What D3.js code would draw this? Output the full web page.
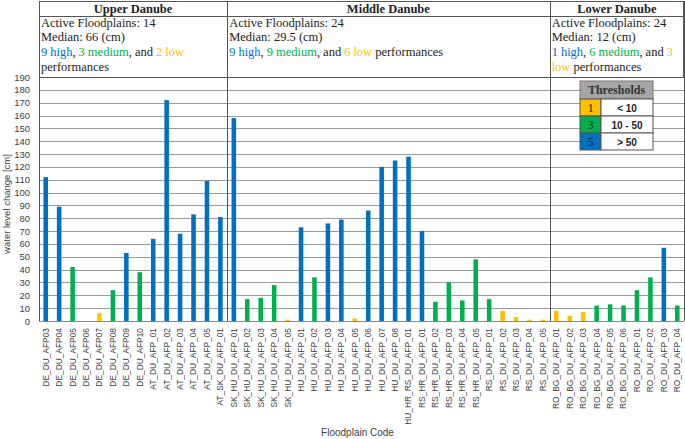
<!DOCTYPE html>
<html>
<head>
<meta charset="utf-8">
<script src="https://cdn.jsdelivr.net/npm/d3@7"></script>
<style>
  body { margin: 0; background: #fff; }
  svg { display: block; }
</style>
</head>
<body>
<svg id="chart"></svg>
<script>
const width = 685;
const height = 439;
const plotLeft = 39, plotRight = 684, plotTop = 77, plotBottom = 321, headTop = 1, titleLine = 16;

// data
const codes = [
  'DE_DU_AFP03', 'DE_DU_AFP04', 'DE_DU_AFP05', 'DE_DU_AFP06', 'DE_DU_AFP07', 'DE_DU_AFP08', 'DE_DU_AFP09', 'DE_DU_AFP10',
  'AT_DU_AFP_01', 'AT_DU_AFP_02', 'AT_DU_AFP_03', 'AT_DU_AFP_04', 'AT_DU_AFP_05', 'AT_SK_DU_AFP_01',
  'SK_HU_DU_AFP_01', 'SK_HU_DU_AFP_02', 'SK_HU_DU_AFP_03', 'SK_HU_DU_AFP_04', 'SK_HU_DU_AFP_05',
  'HU_DU_AFP_01', 'HU_DU_AFP_02', 'HU_DU_AFP_03', 'HU_DU_AFP_04', 'HU_DU_AFP_05', 'HU_DU_AFP_06', 'HU_DU_AFP_07', 'HU_DU_AFP_08',
  'HU_HR_RS_DU_AFP_01',
  'RS_HR_DU_AFP_01', 'RS_HR_DU_AFP_02', 'RS_HR_DU_AFP_03', 'RS_HR_DU_AFP_04', 'RS_HR_DU_AFP_05',
  'RS_DU_AFP_01', 'RS_DU_AFP_02', 'RS_DU_AFP_03', 'RS_DU_AFP_04', 'RS_DU_AFP_05',
  'RO_BG_DU_AFP_01', 'RO_BG_DU_AFP_02', 'RO_BG_DU_AFP_03', 'RO_BG_DU_AFP_04', 'RO_BG_DU_AFP_05', 'RO_BG_DU_AFP_06',
  'RO_DU_AFP_01', 'RO_DU_AFP_02', 'RO_DU_AFP_03', 'RO_DU_AFP_04'
];
const values = [
  112, 89, 42, 0, 6, 24, 53, 38,
  64, 172, 68, 83, 109, 81,
  158, 17, 18, 28, 1,
  73, 34, 76, 79, 2, 86, 120, 125,
  128,
  70, 15, 30, 16, 48,
  17, 8, 3, 1, 1,
  8, 4, 7, 12, 13, 12,
  24, 34, 57, 12
];

const sections = ['Upper Danube', 'Middle Danube', 'Lower Danube'];
const sectionFirst = ['DE_DU_AFP03', 'SK_HU_DU_AFP_01', 'RO_BG_DU_AFP_01'];
const sectionActive = [14, 24, 24];
const sectionMedian = ['66', '29.5', '12'];
const sectionHigh = [9, 9, 1];
const sectionMedium = [3, 9, 6];
const sectionLow = [2, 6, 3];

const thresholdScores = ['1', '3', '5'];
const thresholdLabels = ['< 10', '10 - 50', '> 50'];
const yTicks = d3.range(0, 191, 10);

const colHigh = '#0070C0', colMed = '#00B050', colLow = '#FFC000';
const color = d3.scaleThreshold().domain([10, 50]).range([colLow, colMed, colHigh]);

const svg = d3.select('#chart').attr('width', width).attr('height', height);

const x = d3.scaleBand().domain(codes).range([plotLeft, plotRight]).paddingInner(0.66).paddingOuter(0.33);
const y = d3.scaleLinear().domain([0, 190]).range([plotBottom, plotTop]);

const serif = '"Liberation Serif", "DejaVu Serif", serif';
const sans = '"Liberation Sans", Arial, sans-serif';

// grid
svg.append('g')
  .selectAll('line')
  .data(yTicks)
  .enter().append('line')
  .attr('x1', plotLeft).attr('x2', plotRight)
  .attr('y1', d => Math.round(y(d)) + 0.5).attr('y2', d => Math.round(y(d)) + 0.5)
  .attr('stroke', '#9a9a9a').attr('stroke-width', 1);

// y axis labels
const yAxis = svg.append('g')
  .attr('transform', `translate(${plotLeft}, 0)`)
  .call(d3.axisLeft(y).tickValues(yTicks).tickSize(0).tickPadding(9));
yAxis.select('.domain').remove();
yAxis.selectAll('text').attr('font-family', sans).attr('font-size', 9.5).attr('fill', '#404040');

svg.append('text')
  .attr('transform', `translate(10, ${(plotTop + plotBottom) / 2 + 5}) rotate(-90)`)
  .attr('text-anchor', 'middle')
  .attr('font-family', sans).attr('font-size', 9.5).attr('fill', '#404040')
  .text('water level change [cm]');

// bars
svg.append('g')
  .selectAll('rect')
  .data(codes)
  .enter().append('rect')
  .attr('x', (d) => x(d))
  .attr('y', (d, i) => y(values[i]))
  .attr('width', x.bandwidth())
  .attr('height', (d, i) => plotBottom - y(values[i]))
  .attr('fill', (d, i) => color(values[i]));

// x axis labels
const xAxis = svg.append('g')
  .attr('transform', `translate(0, ${plotBottom})`)
  .call(d3.axisBottom(x).tickSize(0).tickPadding(0));
xAxis.select('.domain').remove();
xAxis.selectAll('text')
  .attr('font-family', sans).attr('font-size', 8.4).attr('fill', '#404040')
  .attr('text-anchor', 'end')
  .attr('transform', 'translate(0, 7) rotate(-90)')
  .attr('x', 0).attr('y', 0).attr('dy', '0.35em');

svg.append('text')
  .attr('x', (plotLeft + plotRight) / 2 - 4).attr('y', 436)
  .attr('text-anchor', 'middle')
  .attr('font-family', sans).attr('font-size', 10).attr('fill', '#404040')
  .text('Floodplain Code');

// header and frame
const step = x.step();
const bounds = sectionFirst.map(c => plotLeft + codes.indexOf(c) * step).concat([plotRight]);

const frame = svg.append('g').attr('stroke', '#555').attr('stroke-width', 1).attr('fill', 'none');
frame.append('rect')
  .attr('x', plotLeft + 0.5).attr('y', headTop + 0.5)
  .attr('width', plotRight - plotLeft - 1).attr('height', plotTop - headTop);
frame.append('line')
  .attr('x1', plotLeft).attr('x2', plotRight).attr('y1', titleLine + 0.5).attr('y2', titleLine + 0.5);
bounds.forEach(b => {
  frame.append('line')
    .attr('x1', Math.round(b) + 0.5).attr('x2', Math.round(b) + 0.5)
    .attr('y1', headTop).attr('y2', plotBottom);
});
frame.append('line')
  .attr('x1', plotLeft).attr('x2', plotRight).attr('y1', plotBottom + 0.5).attr('y2', plotBottom + 0.5)
  .attr('stroke', '#8a8a8a');

sections.forEach((s, i) => {
  const x0 = bounds[i], x1 = bounds[i + 1];
  const g = svg.append('g').attr('font-family', serif).attr('font-size', 12.5).attr('fill', '#222');
  g.append('text').attr('x', (x0 + x1) / 2).attr('y', 13)
    .attr('text-anchor', 'middle').attr('font-weight', 'bold').text(s);
  g.append('text').attr('x', x0 + 2).attr('y', 27).text(`Active Floodplains: ${sectionActive[i]}`);
  g.append('text').attr('x', x0 + 2).attr('y', 40.5).text(`Median: ${sectionMedian[i]} (cm)`);

  // performance sentence, wrapped by width
  const words = [
    [sectionHigh[i] + '', colHigh], ['high', colHigh, ','],
    [sectionMedium[i] + '', colMed], ['medium', colMed, ','],
    ['and', '#222'], [sectionLow[i] + '', colLow], ['low', colLow],
    ['performances', '#222']
  ];
  const maxW = x1 - x0 - 4;
  let cx = 0, line = 0;
  const space = 3;
  words.forEach(w => {
    const t = g.append('text').attr('y', 56 + line * 14.5);
    t.append('tspan').attr('fill', w[1]).text(w[0]);
    if (w[2]) t.append('tspan').attr('fill', '#222').text(w[2]);
    const wl = t.node().getComputedTextLength();
    if (cx > 0 && cx + wl > maxW) { line++; cx = 0; t.attr('y', 56 + line * 14.5); }
    t.attr('x', x0 + 2 + cx);
    cx += wl + space;
  });
});

// thresholds legend
const lg = svg.append('g').attr('transform', 'translate(580, 81)');
const lw = 73, lh = 18, rh = 17, cw = 21;
lg.append('rect').attr('width', lw).attr('height', lh).attr('fill', '#a6a6a6').attr('stroke', '#777');
lg.append('text').attr('x', lw / 2).attr('y', 13).attr('text-anchor', 'middle')
  .attr('font-family', serif).attr('font-size', 12).attr('font-weight', 'bold').attr('fill', '#333')
  .text('Thresholds');
thresholdScores.forEach((s, i) => {
  const ry = lh + i * rh;
  lg.append('rect').attr('y', ry).attr('width', cw).attr('height', rh)
    .attr('fill', [colLow, colMed, colHigh][i]).attr('stroke', '#555');
  lg.append('rect').attr('x', cw).attr('y', ry).attr('width', lw - cw).attr('height', rh)
    .attr('fill', '#fff').attr('stroke', '#555');
  lg.append('text').attr('x', cw / 2).attr('y', ry + 12.5).attr('text-anchor', 'middle')
    .attr('font-family', serif).attr('font-size', 11.5).attr('fill', '#222').text(s);
  lg.append('text').attr('x', cw + (lw - cw) / 2).attr('y', ry + 12.5).attr('text-anchor', 'middle')
    .attr('font-family', sans).attr('font-size', 10).attr('font-weight', 'bold').attr('fill', '#222')
    .text(thresholdLabels[i]);
});
</script>
</body>
</html>
